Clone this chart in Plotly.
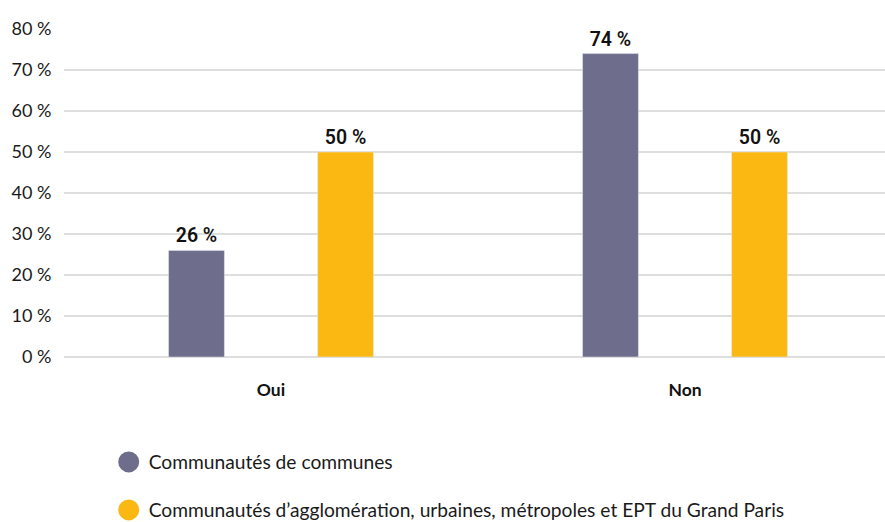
import plotly.graph_objects as go

categories = ["<b>Oui</b>", "<b>Non</b>"]
series_names = ["Communautés de communes",
                "Communautés d’agglomération, urbaines, métropoles et EPT du Grand Paris"]
values_cc = [26, 74]
values_ca = [50, 50]
colors = ["#6e6d8c", "#fbb813"]
y_ticks = [0, 10, 20, 30, 40, 50, 60, 70, 80]
y_tick_labels = [f"{v} %" for v in y_ticks]

fig = go.Figure()
for name, vals, col in zip(series_names, [values_cc, values_ca], colors):
    fig.add_trace(go.Bar(
        x=categories, y=vals, name=name, marker_color=col, showlegend=False,
        text=[f"{v} %" for v in vals], textposition="outside", cliponaxis=False,
        textfont=dict(family="Roboto, sans-serif", size=19.5, color="#111111", weight=600),
    ))
for i, (name, col) in enumerate(zip(series_names, colors)):
    fig.add_trace(go.Scatter(
        x=[None], y=[None], mode="markers", name=name, legendgroup=f"g{i}",
        marker=dict(symbol="circle", size=16, color=col, line=dict(color=col, width=5)),
    ))

fig.update_layout(
    width=892, height=522,
    margin=dict(l=64, r=0, t=29, b=165, autoexpand=False),
    paper_bgcolor="white", plot_bgcolor="white",
    barmode="group", bargap=0.28, bargroupgap=0.625,
    font=dict(family="Lato, Open Sans, sans-serif", size=18, color="#1a1a1a"),
    yaxis=dict(range=[0, 80], tickvals=y_ticks, ticktext=y_tick_labels,
               showgrid=True, gridcolor="#dedede", gridwidth=1.5,
               zeroline=True, zerolinecolor="#dedede", zerolinewidth=1.5,
               ticks="outside", ticklen=8, tickcolor="rgba(0,0,0,0)",
               tickfont=dict(size=18)),
    xaxis=dict(showgrid=False, ticks="outside", ticklen=17, tickcolor="rgba(0,0,0,0)",
               tickfont=dict(size=17.5, color="#111111")),
    legend=dict(orientation="v", x=0.054, xanchor="left", y=-0.262, yanchor="top",
                font=dict(size=19.2, color="#1a1a1a"), tracegroupgap=20,
                itemsizing="trace"),
    showlegend=True,
)

fig.write_html("out.html", config={"displayModeBar": False},
               post_script="document.body.style.margin='0';document.body.style.overflow='hidden';")
